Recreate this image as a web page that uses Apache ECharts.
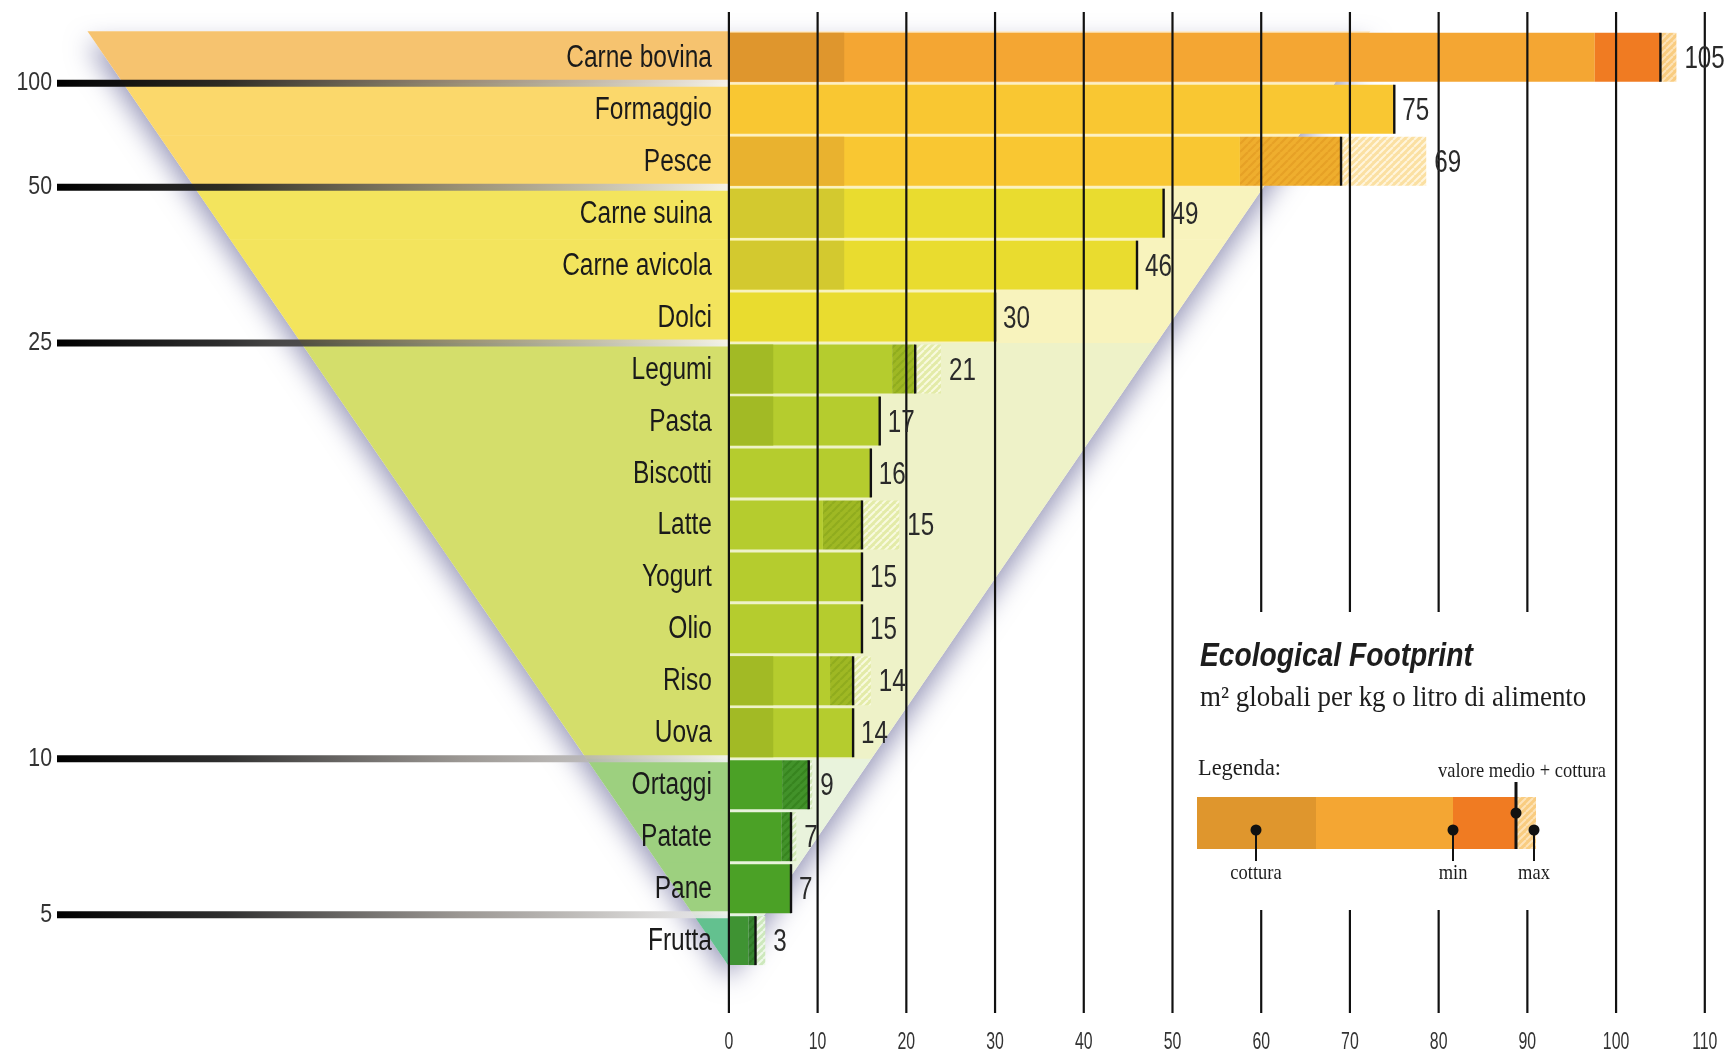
<!DOCTYPE html>
<html>
<head>
<meta charset="utf-8">
<script src="https://cdn.jsdelivr.net/npm/echarts@6/dist/echarts.min.js"></script>
<style>
html,body{margin:0;padding:0;background:#fff;}
#chart{width:1729px;height:1053px;}
</style>
</head>
<body>
<div id="chart"></div>
<script>
// ---------------- DATA ----------------
const categories = ['Carne bovina','Formaggio','Pesce','Carne suina','Carne avicola','Dolci','Legumi','Pasta','Biscotti','Latte','Yogurt','Olio','Riso','Uova','Ortaggi','Patate','Pane','Frutta'];
const values     = [105, 75, 69, 49, 46, 30, 21, 17, 16, 15, 15, 15, 14, 14, 9, 7, 7, 3];   // valore medio + cottura
const cottura    = [13, 0, 13, 13, 13, 0, 5, 5, 0, 0, 0, 0, 5, 5, 0, 0, 0, 0];
const minValues  = [97.6, null, 57.6, null, null, null, 18.4, null, null, 10.6, null, null, 11.4, null, 6, 5.9, null, 2.2];
const maxValues  = [106.8, null, 78.6, null, null, null, 23.9, null, null, 19.2, null, null, 16, null, 9.4, 7.6, null, 4.1];
const groupOf    = [0, 1, 1, 2, 2, 2, 3, 3, 3, 3, 3, 3, 3, 3, 4, 4, 4, 5];
const scaleLabels   = ['100', '50', '25', '10', '5'];
const scaleAfterRow = [0, 2, 5, 13, 16];
const xTicks = [0, 10, 20, 30, 40, 50, 60, 70, 80, 90, 100, 110];

// ---------------- STYLE ----------------
const SANS = '"Liberation Sans",Arial,sans-serif';
const SERIF = '"Liberation Serif","DejaVu Serif",serif';
const NARROW_X = 0.8;            // horizontal squeeze to emulate a condensed face
const TRI_HALF = 72.3;           // half width of the funnel at the top, in axis units
const BAND  = ['#f6c36f','#fbd86b','#f3e45d','#d4de6b','#9dd07f','#63c18f'];
const PALE  = ['#fde6bf','#fdf0bf','#f8f3bd','#eef2c8','#e9f3dc','#e3f3e8'];
const BAR   = ['#f4a633','#f9c732','#e9dc2f','#b5cc2e','#4ba126','#3f9333'];
const COOK  = ['#df962d','#e9b22f','#d3c92f','#a2ba25','#3f9020','#357f2a'];
const RANGE_BG = ['#f07b22','#efae2e','#d9cf2a','#9fb824','#42922a','#378530'];
const RANGE_ST = [null,'#e6a126','#c8bd20','#90ac1e','#37841f','#2f7826'];
const PALEH_BG = ['#f9cc80','#fbe0a2','#f7f0a0','#e3eba8','#cfe6b4','#cde8bc'];
const PALEH_ST = ['#fde3b8','#fff5dc','#fffbd8','#f8fadf','#f0f8e6','#eef8ea'];

function hatch(bg, st, size, lw) {
  const c = document.createElement('canvas');
  c.width = size; c.height = size;
  const g = c.getContext('2d');
  g.fillStyle = bg; g.fillRect(0, 0, size, size);
  g.strokeStyle = st; g.lineWidth = lw;
  g.beginPath();
  for (const k of [-size, 0, size]) { g.moveTo(k, size); g.lineTo(k + size, 0); }
  g.stroke();
  return { image: c, repeat: 'repeat' };
}
const rangeFill = RANGE_BG.map((bg, g) => RANGE_ST[g] ? hatch(bg, RANGE_ST[g], 8, 2.2) : bg);
const paleFill  = PALEH_BG.map((bg, g) => hatch(bg, PALEH_ST[g], 7, 2));

const chart = echarts.init(document.getElementById('chart'), null, { renderer: 'canvas' });
const N = categories.length;

function funnelGeom(api) {
  const bh = api.size([1, 1])[1];
  const unit = api.size([1, 1])[0];
  const c0 = api.coord([0, 0]);
  const cN = api.coord([0, N - 1]);
  const topY = c0[1] - bh / 2, apexY = cN[1] + bh / 2;
  const hwTop = TRI_HALF * unit;
  return { bh, unit, x0: c0[0], topY, apexY, hw: y => hwTop * (apexY - y) / (apexY - topY) };
}

function narrowText(x, y, text, size, opts) {
  opts = opts || {};
  return {
    type: 'text', x, y, scaleX: opts.sx || NARROW_X, z2: opts.z2 || 0,
    style: {
      text, font: (opts.weight || '') + ' ' + size + 'px ' + (opts.family || SANS),
      fill: opts.fill || '#222', align: opts.align || 'left', verticalAlign: 'middle'
    }
  };
}

// funnel shadow
const shadowSeries = {
  type: 'custom', z: 1, silent: true, clip: false,
  encode: { x: 0, y: 1 },
  data: [[0, 0]],
  renderItem(params, api) {
    const f = funnelGeom(api);
    return {
      type: 'polygon',
      shape: { points: [[f.x0 - f.hw(f.topY), f.topY], [f.x0 + f.hw(f.topY), f.topY], [f.x0, f.apexY]] },
      style: { fill: '#ffffff', shadowBlur: 26, shadowColor: 'rgba(85,85,140,0.6)', shadowOffsetY: 13 }
    };
  }
};

// funnel row bands
const bandSeries = {
  type: 'custom', z: 2, silent: true, clip: false,
  encode: { x: 0, y: 1 },
  data: categories.map((c, i) => [0, i]),
  renderItem(params, api) {
    const i = params.dataIndex, g = groupOf[i];
    const f = funnelGeom(api);
    const cy = api.coord([0, i])[1];
    const y1 = cy - f.bh / 2, y2 = Math.min(cy + f.bh / 2 + 0.6, f.apexY);
    return {
      type: 'group',
      children: [
        { type: 'polygon', shape: { points: [[f.x0 - f.hw(y1), y1], [f.x0, y1], [f.x0, y2], [f.x0 - f.hw(y2), y2]] }, style: { fill: BAND[g] } },
        { type: 'polygon', shape: { points: [[f.x0, y1], [f.x0 + f.hw(y1), y1], [f.x0 + f.hw(y2), y2], [f.x0, y2]] }, style: { fill: PALE[g] } }
      ]
    };
  }
};

// scale marks on the left
const scaleSeries = {
  type: 'custom', z: 3, silent: true, clip: false,
  encode: { x: 0, y: 1 },
  data: scaleAfterRow.map(r => [0, r]),
  renderItem(params, api) {
    const r = scaleAfterRow[params.dataIndex];
    const a = api.coord([0, r]), b = api.coord([0, r + 1]);
    const y = (a[1] + b[1]) / 2;
    const xStart = 57;
    return {
      type: 'group',
      children: [
        { type: 'rect', shape: { x: xStart, y: y - 3.5, width: a[0] - xStart, height: 7 },
          style: { fill: new echarts.graphic.LinearGradient(0, 0, 1, 0, [
            { offset: 0, color: 'rgba(0,0,0,1)' },
            { offset: 0.25, color: 'rgba(30,30,30,0.92)' },
            { offset: 0.6, color: 'rgba(130,125,120,0.8)' },
            { offset: 1, color: 'rgba(245,245,245,0.9)' }]) } },
        narrowText(52, y, scaleLabels[params.dataIndex], 26, { align: 'right', fill: '#333', sx: 0.82 })
      ]
    };
  }
};

// category labels
const labelSeries = {
  type: 'custom', z: 6, silent: true, clip: false,
  encode: { x: 0, y: 1 },
  data: categories.map((c, i) => [0, i]),
  renderItem(params, api) {
    const p = api.coord([0, params.dataIndex]);
    return narrowText(p[0] - 17, p[1] + 1, categories[params.dataIndex], 31, { align: 'right', fill: '#1a1a1a', sx: 0.79 });
  }
};

// bars
const barSeries = {
  type: 'custom', z: 4, silent: true, clip: false,
  encode: { x: 0, y: 1 },
  data: values.map((v, i) => [v, i]),
  renderItem(params, api) {
    const i = params.dataIndex, g = groupOf[i];
    const bh = api.size([1, 1])[1];
    const cy = api.coord([0, i])[1];
    const h = bh - 3, y = cy - h / 2;
    const X = v => api.coord([v, i])[0];
    const v = values[i], mn = minValues[i], mx = maxValues[i], ck = cottura[i];
    const ch = [];
    const mainEnd = mn != null ? mn : v;
    ch.push({ type: 'rect', shape: { x: X(0), y, width: X(mainEnd) - X(0), height: h }, style: { fill: BAR[g] } });
    if (ck) ch.push({ type: 'rect', shape: { x: X(0), y, width: X(ck) - X(0), height: h }, style: { fill: COOK[g] } });
    if (mn != null) ch.push({ type: 'rect', shape: { x: X(mn), y, width: X(v) - X(mn), height: h }, style: { fill: rangeFill[g] } });
    if (mx != null) ch.push({ type: 'rect', shape: { x: X(v), y, width: X(mx) - X(v), height: h }, style: { fill: paleFill[g] } });
    ch.push({ type: 'rect', shape: { x: X(v) - 1.2, y, width: 2.4, height: h }, style: { fill: '#111' } });
    return { type: 'group', children: ch };
  }
};

// value labels
const valueLabelSeries = {
  type: 'custom', z: 7, silent: true, clip: false,
  encode: { x: 0, y: 1 },
  data: values.map((v, i) => [v, i]),
  renderItem(params, api) {
    const i = params.dataIndex;
    const end = maxValues[i] != null ? maxValues[i] : values[i];
    const p = api.coord([end, i]);
    return narrowText(p[0] + 8, p[1] + 2, String(values[i]), 31, { fill: '#2a2a2a', sx: 0.78 });
  }
};

// vertical grid lines drawn over the bars, and their tick labels
const GRID_TOP = 12, GRID_BOTTOM = 1013, GAP_TOP = 612, GAP_BOTTOM = 910, TICK_LABEL_Y = 1042;
const gridSeries = {
  type: 'custom', z: 5, silent: true, clip: false,
  encode: { x: 0, y: 1 },
  data: xTicks.map(t => [t, 0]),
  renderItem(params, api) {
    const t = xTicks[params.dataIndex];
    const x = api.coord([t, 0])[0];
    const st = { stroke: '#111', lineWidth: 2.2 };
    const ch = [];
    if (t >= 60 && t <= 90) {
      ch.push({ type: 'line', shape: { x1: x, y1: GRID_TOP, x2: x, y2: GAP_TOP }, style: st });
      ch.push({ type: 'line', shape: { x1: x, y1: GAP_BOTTOM, x2: x, y2: GRID_BOTTOM }, style: st });
    } else {
      ch.push({ type: 'line', shape: { x1: x, y1: GRID_TOP, x2: x, y2: GRID_BOTTOM }, style: st });
    }
    ch.push(narrowText(x, TICK_LABEL_Y, String(t), 24, { align: 'center', fill: '#333', sx: 0.66 }));
    return { type: 'group', children: ch };
  }
};

// legend graphics
const LB = { y: 797, h: 52 };
function gText(x, y, text, font, sx, align) {
  return { type: 'text', x, y, scaleX: sx, style: { text, font, fill: '#1d1d1d', align: align || 'left', verticalAlign: 'middle' } };
}
const legendGraphic = [
  gText(1200, 657, 'Ecological Footprint', 'italic bold 34px ' + SANS, 0.83),
  gText(1200, 698, 'm² globali per kg o litro di alimento', '29px ' + SERIF, 0.93),
  gText(1198, 769, 'Legenda:', '24px ' + SERIF, 0.93),
  gText(1606, 771, 'valore medio + cottura', '21px ' + SERIF, 0.88, 'right'),
  { type: 'rect', shape: { x: 1197, y: LB.y, width: 119, height: LB.h }, style: { fill: COOK[0] } },
  { type: 'rect', shape: { x: 1316, y: LB.y, width: 137, height: LB.h }, style: { fill: BAR[0] } },
  { type: 'rect', shape: { x: 1453, y: LB.y, width: 62, height: LB.h }, style: { fill: RANGE_BG[0] } },
  { type: 'rect', shape: { x: 1515, y: LB.y, width: 21, height: LB.h }, style: { fill: paleFill[0] } },
  { type: 'rect', shape: { x: 1514.5, y: 782, width: 3, height: 67 }, style: { fill: '#111' } },
  { type: 'circle', shape: { cx: 1516, cy: 813, r: 5.5 }, style: { fill: '#111' } },
  { type: 'circle', shape: { cx: 1256, cy: 830, r: 5.5 }, style: { fill: '#111' } },
  { type: 'circle', shape: { cx: 1453, cy: 830, r: 5.5 }, style: { fill: '#111' } },
  { type: 'circle', shape: { cx: 1534, cy: 830, r: 5.5 }, style: { fill: '#111' } },
  { type: 'line', shape: { x1: 1256, y1: 830, x2: 1256, y2: 861 }, style: { stroke: '#111', lineWidth: 2 } },
  { type: 'line', shape: { x1: 1453, y1: 830, x2: 1453, y2: 861 }, style: { stroke: '#111', lineWidth: 2 } },
  { type: 'line', shape: { x1: 1534, y1: 830, x2: 1534, y2: 861 }, style: { stroke: '#111', lineWidth: 2 } },
  gText(1256, 873, 'cottura', '21px ' + SERIF, 0.88, 'center'),
  gText(1453, 873, 'min', '21px ' + SERIF, 0.88, 'center'),
  gText(1534, 873, 'max', '21px ' + SERIF, 0.88, 'center')
];

chart.setOption({
  animation: false,
  backgroundColor: '#ffffff',
  grid: { left: 728.9, right: 24.2, top: 31.3, bottom: 86.4, containLabel: false },
  xAxis: {
    type: 'value', min: 0, max: 110, interval: 10,
    axisLine: { show: false }, axisTick: { show: false }, splitLine: { show: false },
    axisLabel: { show: false }
  },
  yAxis: {
    type: 'category', data: categories, inverse: true,
    axisLine: { show: false }, axisTick: { show: false }, splitLine: { show: false },
    axisLabel: { show: false }
  },
  graphic: legendGraphic,
  series: [shadowSeries, bandSeries, scaleSeries, barSeries, gridSeries, labelSeries, valueLabelSeries]
});
</script>
</body>
</html>
